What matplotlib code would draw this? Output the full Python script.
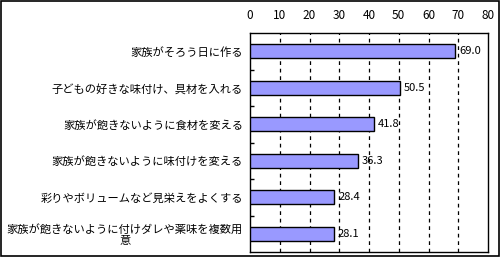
import matplotlib
matplotlib.use("Agg")
import matplotlib.pyplot as plt
from matplotlib.patches import Rectangle

plt.rcParams['font.family'] = ['Noto Sans CJK JP', 'DejaVu Sans']

categories = [
    "家族がそろう日に作る",
    "子どもの好きな味付け、具材を入れる",
    "家族が飽きないように食材を変える",
    "家族が飽きないように味付けを変える",
    "彩りやボリュームなど見栄えをよくする",
    "家族が飽きないように付けダレや薬味を複数用\n意",
]
values = [69.0, 50.5, 41.8, 36.3, 28.4, 28.1]
xticks = [0, 10, 20, 30, 40, 50, 60, 70, 80]

fig = plt.figure(figsize=(5.0, 2.57), dpi=100)
ax = fig.add_axes([250/500, 1-252/257, (488-250)/500, (252-33)/257])

y = list(range(len(categories)))
ax.barh(y, values, height=0.38, color='#9999FF', edgecolor='black', linewidth=1, zorder=3)
for yi, v in zip(y, values):
    ax.text(v + 1.3, yi, f"{v:.1f}", va='center', ha='left', fontsize=8, zorder=4)

ax.set_xlim(0, 80)
ax.set_ylim(len(categories) - 0.5, -0.5)
ax.xaxis.tick_top()
ax.set_xticks(xticks)
ax.set_xticklabels([str(t) for t in xticks], fontsize=8.5)
ax.tick_params(axis='x', length=0, pad=8)
ax.set_yticks(y)
ax.set_yticklabels(categories, fontsize=8.1, linespacing=1.1, multialignment='center')
ax.tick_params(axis='y', length=0, pad=5)
ax.set_yticks([i + 0.5 for i in y[:-1]], minor=True)
ax.tick_params(axis='y', which='minor', direction='in', length=3, width=1)
for t in xticks[1:-1]:
    ax.axvline(t, color='black', linestyle=(0, (3, 3)), linewidth=0.9, zorder=1)
for s in ax.spines.values():
    s.set_linewidth(1)
    s.set_color('black')

fig.patches.append(Rectangle((0.001, 0.002), 0.997, 0.995, transform=fig.transFigure,
                             fill=False, edgecolor='black', linewidth=1.2))
fig.savefig('out.png', dpi=100, facecolor='white')
